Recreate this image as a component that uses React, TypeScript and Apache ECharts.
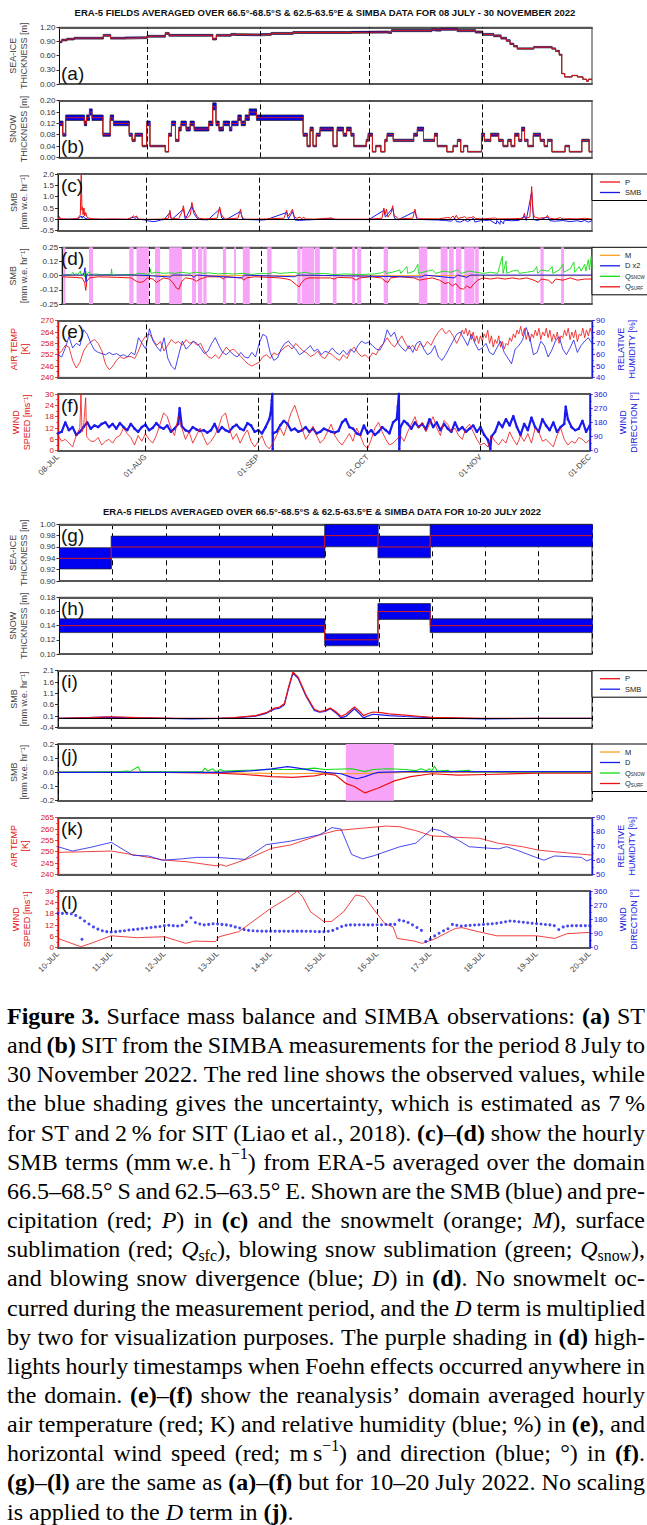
import React, { useEffect, useRef } from "react";
import * as echarts from "echarts";

// ================= DATA =================
const monthTickDays = [0, 24, 55, 85, 116, 146];
const monthTickLabels = ["08-JUL", "01-AUG", "01-SEP", "01-OCT", "01-NOV", "01-DEC"];
const dayTickLabels = ["10-JUL", "11-JUL", "12-JUL", "13-JUL", "14-JUL", "15-JUL", "16-JUL", "17-JUL", "18-JUL", "19-JUL", "20-JUL"];
const title1 = "ERA-5 FIELDS AVERAGED OVER 66.5°-68.5°S & 62.5-63.5°E & SIMBA DATA FOR 08 JULY - 30 NOVEMBER 2022";
const title2 = "ERA-5 FIELDS AVERAGED OVER 66.5°-68.5°S & 62.5-63.5°E & SIMBA DATA FOR 10-20 JULY 2022";
const panelLetters = ["(a)", "(b)", "(c)", "(d)", "(e)", "(f)", "(g)", "(h)", "(i)", "(j)", "(k)", "(l)"];

// (a) sea-ice thickness, steps [start day since 08-JUL, m]
const iceSteps = [[0,0.89],[0.6,0.93],[2,0.95],[4,0.97],[12,1.03],[14,0.97],[18,0.98],[24,1.01],[29,1.07],[30,1.03],[42,0.95],[43,1.03],[47,1.05],[48.3,1.04],[55,1.05],[58,1.07],[64,1.09],[80,1.10],[90,1.09],[91,1.13],[102,1.15],[103,1.14],[104.5,1.16],[109,1.13],[114,1.10],[116,1.05],[119,1.02],[121,0.97],[122.5,0.92],[123.5,0.85],[124.5,0.80],[125.5,0.75],[130,0.78],[135,0.75],[136,0.70],[137,0.62],[137.7,0.22],[138.5,0.15],[140.5,0.18],[142,0.15],[143.5,0.10],[144.5,0.06],[145,0.10]];
// (b) snow thickness steps
const snowSteps = [[0,0.12],[0.9,0.08],[1.7,0.14],[6.8,0.12],[7.4,0.14],[8.2,0.16],[8.9,0.14],[11.9,0.08],[13.9,0.14],[14.8,0.12],[19.1,0.08],[19.9,0.06],[20.7,0.08],[22.7,0.04],[23.9,0.12],[24.8,0.04],[29.0,0.02],[29.9,0.08],[30.7,0.12],[31.8,0.06],[32.7,0.10],[33.3,0.12],[34.7,0.10],[35.8,0.12],[36.9,0.10],[40.9,0.12],[42.0,0.18],[42.9,0.12],[43.7,0.10],[44.9,0.12],[46.6,0.10],[47.2,0.12],[48.9,0.14],[49.8,0.12],[50.9,0.14],[52.0,0.16],[54.0,0.14],[66.8,0.08],[67.9,0.04],[68.7,0.10],[69.5,0.04],[70.4,0.08],[71.4,0.10],[75.0,0.04],[76.1,0.10],[77.8,0.08],[78.7,0.10],[79.9,0.08],[80.7,0.04],[84.1,0.06],[84.6,0.08],[85.8,0.02],[86.7,0.04],[88.1,0.02],[89.2,0.06],[89.8,0.08],[91.5,0.06],[97.1,0.08],[98.1,0.10],[99.8,0.06],[102.8,0.08],[103.6,0.04],[106.2,0.02],[107.9,0.04],[109.1,0.06],[110.0,0.02],[110.8,0.04],[111.9,0.02],[115.7,0.08],[116.5,0.06],[118.2,0.08],[120.4,0.06],[121.6,0.04],[122.9,0.06],[123.8,0.04],[124.8,0.08],[125.9,0.06],[126.7,0.10],[127.5,0.06],[128.4,0.04],[129.9,0.08],[131.8,0.06],[132.9,0.04],[133.8,0.06],[135.0,0.02],[138.6,0.04],[139.8,0.02],[143.2,0.06],[145.2,0.02]];
// (c) precipitation and SMB [day, mm w.e. hr-1]
const precipTop = [[0,0.01],[0.4,0.12],[0.7,0.02],[1.5,0.03],[2.5,0.01],[4,0.02],[5.5,0.05],[6.1,0.2],[6.35,1.95],[6.55,0.4],[6.7,0.55],[6.85,0.2],[7.1,0.5],[7.3,0.15],[7.6,0.3],[7.9,0.1],[8.5,0.05],[9.5,0.03],[12,0.01],[15,0.02],[19,0.01],[20.2,0.08],[20.6,0.16],[21,0.1],[21.5,0.15],[21.8,0.02],[24,0],[28,0.01],[30.2,0.05],[30.6,0.4],[30.9,0.05],[33,0.02],[33.8,0.3],[34.3,0.6],[34.7,0.15],[35.3,0.05],[36.2,0.2],[36.6,0.75],[37,0.45],[37.5,0.3],[38,0.12],[38.6,0.05],[40,0.02],[43.5,0.05],[44.2,0.55],[44.6,0.25],[45.1,0.1],[45.8,0.02],[49.2,0.05],[49.9,0.45],[50.3,0.1],[51,0.01],[55,0.01],[61.8,0.05],[62.5,0.4],[62.9,0.15],[63.6,0.3],[64.1,0.45],[64.6,0.12],[65.2,0.05],[66.2,0.1],[66.6,0.02],[67.2,0.1],[67.6,0.02],[70,0.01],[74.8,0.06],[75.3,0.01],[80,0.01],[85,0.01],[88.6,0.05],[89.1,0.5],[89.4,0.2],[89.8,0.45],[90.2,0.1],[91.1,0.3],[91.5,0.6],[91.9,0.15],[92.5,0.12],[93,0.02],[97,0.05],[97.6,0.45],[98,0.1],[98.6,0.03],[104,0.02],[106.5,0.08],[107.4,0.05],[108,0.15],[108.4,0.05],[108.9,0.18],[109.3,0.04],[110.5,0.08],[111.2,0.12],[111.7,0.05],[113,0.08],[113.6,0.12],[114.1,0.04],[116,0.02],[119.6,0.06],[120.1,0.02],[125,0.03],[127.2,0.05],[127.5,0.27],[127.8,0.05],[129,0.1],[129.5,1.45],[129.9,0.3],[130.3,0.1],[131.5,0.05],[133.3,0.08],[133.8,0.18],[134.3,0.05],[136,0.02],[137.4,0.08],[137.8,0.02],[140,0.03],[142,0.02],[144,0.05],[146,0.01]];
const smbTop = [[0,0],[0.4,0.08],[0.7,0],[5.5,0.02],[6.1,0.1],[6.35,0.15],[6.6,0.05],[6.9,0.15],[7.3,0.05],[8,0.02],[9,0],[19,0],[20.6,0.1],[21,0.03],[21.5,0.1],[22,0],[23.5,-0.02],[24.5,-0.06],[26,-0.1],[27,-0.08],[28,-0.03],[29,-0.01],[30.6,0.3],[31,-0.02],[34.3,0.45],[34.8,0],[36.6,0.6],[37.2,0.25],[38,0.05],[39,-0.01],[41,-0.02],[44.2,0.45],[44.8,0.05],[46,-0.01],[49.9,0.35],[50.5,0],[54,-0.02],[56,-0.03],[57,-0.01],[62.5,0.3],[63,0.02],[64.1,0.35],[64.8,-0.03],[66,-0.05],[67.5,-0.03],[70,-0.01],[75,0.03],[76,-0.01],[80,-0.01],[85,-0.01],[89.1,0.4],[89.5,0.1],[91.5,0.5],[92,0.05],[93,-0.02],[97.6,0.35],[98.2,0],[102,-0.02],[104,-0.03],[106,-0.05],[107.5,-0.08],[108.5,0.05],[109,-0.1],[110,-0.12],[111.2,-0.02],[112,-0.1],[113.6,0.05],[114,-0.12],[115.5,-0.06],[116,-0.02],[117,-0.05],[118,-0.03],[119.8,-0.2],[120,-0.05],[120.8,-0.22],[121,-0.05],[121.8,-0.2],[122,-0.04],[124,-0.06],[126,-0.05],[127.5,0.15],[128,-0.05],[129.5,1.2],[130,0],[131,-0.05],[133.8,0.1],[134.5,-0.06],[136,-0.08],[138,-0.05],[140,-0.1],[142,-0.06],[143,-0.1],[144,-0.05],[145,-0.12],[146,-0.06]];
// (d) SMB terms
const meltTop = [[0,0],[146,0]];
const driftTop = [[0,0.005],[5.8,0.005],[6.1,0.03],[6.3,0.07],[6.45,-0.02],[6.6,-0.06],[6.8,0.01],[7.2,0.005],[20,0.005],[24,0],[29.8,-0.012],[30.5,0.005],[35.5,0.005],[36.3,-0.015],[37,0.005],[49.5,-0.02],[50.2,0.005],[64,-0.01],[65,0.005],[99,-0.012],[100,0.005],[108,-0.02],[109,0.005],[111.5,-0.015],[112.5,0.005],[146,0.005]];
const qsnowTop = [[0,0.005],[2.5,0.01],[3,0.03],[3.2,0.005],[4,0.02],[4.2,0.005],[5,0.04],[5.2,0.01],[6,0.02],[6.2,-0.01],[6.5,0.04],[6.7,0.005],[7.5,0.035],[7.7,0.01],[9,0.015],[10.5,0.01],[13.5,0.01],[13.6,0.06],[13.8,0.005],[16,0.01],[20,0.01],[21,0.02],[23,0.015],[24,0.01],[24.3,0.06],[24.5,0.02],[26,0.03],[28,0.02],[29.5,0.025],[31,0.02],[33,0.03],[35,0.02],[37,0.03],[39,0.02],[40.5,0.025],[43,0.015],[45,0.02],[47,0.015],[50,0.02],[52,0.01],[55,0.02],[57,0.015],[58,0.03],[60,0.02],[62,0.025],[64,0.03],[65,0.02],[67,0.03],[69,0.015],[72,0.02],[75,0.01],[78,0.015],[82,0.01],[86,0.015],[88,0.025],[89,0.04],[89.3,0.02],[91,0.03],[93,0.05],[93.3,0.02],[95,0.08],[95.2,0.02],[97,0.04],[98,0.1],[98.2,0.02],[100,0.035],[102,0.05],[103,0.02],[105,0.04],[107,0.03],[109,0.05],[110,0.02],[112,0.04],[114,0.03],[116,0.02],[118,0.03],[120,0.02],[121.3,0.17],[121.5,0.02],[122.3,0.13],[122.5,0.02],[124,0.04],[125.5,0.05],[126,0.02],[128,0.03],[130,0.04],[130.8,0.08],[131,0.02],[132,0.05],[134,0.04],[135,0.08],[135.2,0.02],[137,0.05],[138,0.1],[138.2,0.03],[140,0.06],[141,0.12],[141.2,0.03],[142.5,0.08],[143,0.04],[144,0.1],[144.3,0.04],[145,0.14],[145.3,0.05],[145.8,0.17],[146,0.06]];
const qsurfTop = [[0,-0.01],[3,-0.015],[5.5,-0.02],[6.2,-0.06],[6.5,-0.13],[6.8,-0.05],[7.5,-0.02],[10,-0.01],[15,-0.015],[19,-0.02],[20.5,-0.05],[21.5,-0.06],[22.5,-0.05],[23.5,-0.02],[25,-0.03],[26,-0.06],[27,-0.04],[28,-0.02],[29.5,-0.03],[30.5,-0.06],[31.5,-0.11],[32.2,-0.12],[33,-0.05],[34,-0.02],[36,-0.03],[37,-0.05],[38,-0.03],[39,-0.02],[40,-0.01],[43.5,-0.01],[44.5,-0.03],[45,-0.01],[49.5,-0.02],[50,-0.04],[50.8,-0.02],[53,-0.01],[57,-0.015],[60,-0.02],[62,-0.03],[63,-0.04],[64.5,-0.08],[65.3,-0.1],[66,-0.06],[67,-0.03],[68,-0.02],[70,-0.02],[74,-0.02],[75,-0.03],[76,-0.015],[80,-0.02],[81,-0.04],[82,-0.02],[85,-0.01],[88,-0.02],[89,-0.05],[89.8,-0.06],[90.5,-0.02],[93,-0.01],[97,-0.02],[98.5,-0.04],[100,-0.03],[102,-0.02],[104,-0.04],[105.5,-0.07],[106.5,-0.06],[107.5,-0.09],[108.5,-0.07],[109.5,-0.11],[110.5,-0.12],[111.5,-0.09],[112.5,-0.11],[113.5,-0.07],[114.5,-0.04],[116,-0.02],[118,-0.03],[120,-0.02],[122,-0.03],[124,-0.02],[126,-0.03],[128,-0.02],[130,-0.04],[131.2,-0.06],[132,-0.03],[134,-0.04],[135,-0.07],[136,-0.03],[138,-0.04],[140,-0.02],[142,-0.04],[144,-0.03],[146,-0.03]];
const foehnTop = [[0.3,0.9],[7.4,8.5],[18.5,19.7],[20.5,23.9],[25.6,27.0],[29.5,33.0],[35.8,36.9],[37.4,38.6],[38.9,39.8],[44.3,45.2],[47.4,47.9],[49.8,51.7],[56.5,57.7],[64.8,65.7],[66.0,69.4],[69.6,71.0],[74.6,75.6],[79.9,80.7],[81.3,82.4],[88.6,89.8],[98.3,100.6],[104.3,106.2],[106.6,107.9],[108.5,110.0],[110.8,113.6],[113.8,114.8],[131.8,132.7],[137.5,138.3]];
// (e) air temperature [K]: daily values day 0..109, then half-daily values day 110..146
const tempTopDaily = [252,254,257,256,249,245,248,254,257,259, 260,258,254,247,244,246,249,251,250,251, 251,250,254,259,262,263,260,257,259,254, 257,260,258,259,257,260,258,259,257,258, 254,251,250,252,250,253,256,254,255,253, 251,249,247,246,247,248,251,252,250,253, 252,254,256,257,255,258,256,254,253,251, 252,254,251,250,253,252,250,249,252,250, 254,256,253,251,252,250,253,252,256,258, 261,258,256,259,262,258,255,257,254,258, 256,259,257,261,264,266,263,265,262,258];
const tempTopHalfDay = [262,265,263,266,262,265,260,264,259,262, 258,262,259,263,261,265,258,262,256,260, 258,262,256,259,255,258,257,261,259,263, 261,265,263,267,262,266,260,264,259,263, 261,265,262,266,260,264,262,266,261,265, 259,263,260,264,258,262,261,265,262,266, 260,264,261,265,259,263,262,266,261,265, 262,266,263];
// relative humidity [%], daily day 0..146
const rhTopDaily = [60,58,66,76,66,70,68,82,78,70, 64,62,61,60,62,60,61,59,60,58, 62,60,75,70,65,83,72,67,63,75, 57,50,47,60,72,65,68,72,70,66, 61,63,70,75,68,62,60,63,60,58, 62,58,57,62,58,70,78,76,62,55, 57,65,70,72,68,65,60,62,65,68, 63,65,60,63,62,66,62,60,64,60, 65,62,68,72,70,71,68,65,64,70, 82,76,80,70,66,63,68,62,70,72, 65,60,62,68,58,55,60,66,72,78, 80,74,68,78,70,64,66,70,62,60, 66,72,62,57,52,65,68,73,84,75, 60,62,72,68,58,64,72,76,65,60, 66,73,62,68,72,75,70];
// (f) wind speed [m s-1] daily + extra readings, wind direction [deg] daily + extra readings
const windTopDaily = [8,5,6,4,2,8,12,12,7,5, 5,7,3,5,6,4,7,8,12,9, 7,3,8,5,9,6,4,8,14,20, 18,12,8,18,12,6,10,4,8,12, 7,3,5,8,12,18,20,12,6,9, 4,8,11,5,2,5,8,3,1,4, 8,12,8,14,20,24,18,12,6,9, 13,8,4,6,10,14,8,5,3,6, 9,5,12,8,3,1,6,12,15,10, 6,3,4,6,8,5,10,14,18,12, 15,10,14,18,12,8,16,14,10,12, 8,6,12,14,10,6,3,4,2,8, 5,3,6,4,10,6,3,8,5,9, 4,12,10,5,6,4,2,8,12,6, 3,5,4,7,6,4,6];
const windTopExtra = [[6.3,30],[6.6,10],[7.6,28],[7.85,8]];
const dirTopDaily = [110,120,180,130,150,100,120,150,180,140, 160,150,170,180,150,170,140,175,150,130, 170,140,120,150,165,130,145,175,150,140, 160,120,140,170,155,130,120,150,135,125, 130,115,130,170,120,150,130,120,150,165, 140,130,175,160,120,130,110,150,200,110, 120,160,190,170,130,140,120,130,150,120, 140,110,120,140,130,120,115,125,180,200, 150,140,110,100,160,110,130,100,120,150, 130,110,180,200,150,190,170,140,180,150, 170,135,200,150,180,130,170,140,120,180, 130,150,120,140,160,120,150,100,70,90, 120,180,150,200,160,220,150,100,170,130, 210,150,120,200,160,130,180,120,150,170, 200,150,130,140,190,120,160];
const dirTopExtra = [[33.4,270],[58.4,240],[58.7,320],[58.85,360],[58.95,10],[93.3,280],[93.6,360],[93.7,10],[118.7,10],[139.4,280]];

// (g)-(l): 10-20 JULY, day since 10-JUL
const iceSteps2 = [[0,0.94],[0.97,0.96],[4.98,0.98],[5.98,0.96],[6.96,0.98]];
const snowSteps2 = [[0,0.14],[4.98,0.12],[5.98,0.16],[6.96,0.14]];
const precipBot = [[0,0],[0.6,0.03],[1.0,0.07],[1.5,0.03],[2.2,0],[3.0,0],[3.3,0.03],[3.7,0.12],[3.9,0.25],[4.05,0.45],[4.15,0.5],[4.24,0.65],[4.32,1.4],[4.4,2.05],[4.5,1.8],[4.65,1.0],[4.8,0.4],[4.9,0.3],[5.0,0.35],[5.1,0.45],[5.2,0.3],[5.3,0.08],[5.4,0.2],[5.55,0.5],[5.65,0.3],[5.72,0.12],[5.8,0.2],[5.9,0.28],[6.05,0.25],[6.2,0.2],[6.5,0.14],[6.8,0.08],[7.0,0.04],[7.5,0.02],[8,0],[10,0]];
const smbBot = [[0,0],[0.9,0.05],[1.5,0.02],[2.5,-0.02],[3.0,0],[3.3,0.02],[3.7,0.1],[3.9,0.22],[4.05,0.4],[4.15,0.45],[4.24,0.6],[4.32,1.35],[4.4,2.0],[4.5,1.75],[4.65,0.95],[4.8,0.35],[4.9,0.27],[5.0,0.3],[5.1,0.42],[5.2,0.25],[5.3,0.02],[5.4,0.1],[5.55,0.42],[5.65,0.2],[5.72,0.02],[5.8,0.1],[5.9,0.18],[6.05,0.15],[6.2,0.12],[6.5,0.08],[6.8,0.05],[7.0,0.02],[8,-0.02],[9,0],[10,0]];
const meltBot = [[0,0],[3,0],[3.5,-0.005],[4.3,-0.01],[5,-0.005],[5.5,-0.01],[6.5,0],[10,0]];
const driftBot = [[0,0],[3,0],[3.6,0.01],[4.0,0.025],[4.3,0.04],[4.5,0.03],[4.8,0.01],[5.0,0],[5.3,-0.01],[5.5,-0.035],[5.6,-0.045],[5.75,-0.03],[5.9,-0.01],[6.0,0],[6.5,0.005],[10,0.005]];
const qsnowBot = [[0,0.002],[1.0,0.003],[1.3,0.01],[1.35,0.005],[1.5,0.04],[1.55,0.005],[2,0.003],[2.7,0.003],[2.75,0.03],[2.8,0.01],[2.9,0.025],[2.95,0.005],[3.05,0.02],[3.1,0.01],[3.5,0.015],[4.0,0.02],[4.5,0.02],[4.8,0.03],[5.0,0.02],[5.5,0.025],[5.75,0.005],[5.9,0.02],[6.2,0.025],[6.5,0.02],[6.7,0.012],[6.8,0.025],[6.9,0.012],[6.95,0.025],[7.0,0.01],[7.05,0.045],[7.1,0.01],[7.3,0.015],[7.35,0.005],[7.7,0.015],[7.75,0.003],[8,0.003],[10,0.003]];
const qsurfBot = [[0,0],[2,0],[3,-0.005],[3.5,-0.015],[4.0,-0.03],[4.4,-0.035],[4.8,-0.025],[5.0,-0.01],[5.2,-0.02],[5.4,-0.08],[5.55,-0.1],[5.75,-0.145],[6.0,-0.11],[6.3,-0.06],[6.6,-0.03],[7.0,-0.01],[7.5,-0.02],[8.0,-0.015],[9,-0.005],[10,-0.005]];
const foehnBot = [[5.39, 6.29]];
const tempBot = [[0,249.7],[1.0,250.3],[2.0,246.3],[2.4,245.6],[2.96,243.8],[3.05,244.3],[3.15,243.6],[3.6,247.3],[4.0,251.5],[4.36,253],[4.9,257.4],[5.2,259.3],[5.9,260.8],[6.15,261.3],[6.4,261],[6.7,259.3],[7.0,257],[7.5,256.3],[7.9,255.9],[8.25,253.7],[8.7,252.2],[9.0,250.7],[9.3,250],[10,248.5]];
const rhBot = [[0,69.5],[0.27,66.5],[0.6,69],[1.0,72.6],[1.2,68],[1.4,63.5],[1.7,63],[1.95,60],[2.33,61],[2.6,62],[2.96,62],[3.5,60.6],[3.9,71],[4.36,73.5],[4.9,78],[5.13,83],[5.3,82],[5.5,64],[5.7,61],[5.9,63],[6.4,69.5],[6.7,72],[7.0,82],[7.16,81],[7.5,74],[7.7,69.5],[8.25,68],[8.4,69.5],[8.6,67],[8.95,62],[9.1,60],[9.3,63],[9.8,62],[9.9,59.5],[10,61]];
const windBot = [[0,4.9],[0.43,0.5],[0.62,2.3],[1.0,6.3],[1.48,5.3],[2.0,5.8],[2.4,2.3],[2.57,3.5],[2.96,3.2],[3.03,5.8],[3.4,8.5],[4.0,20.8],[4.36,27],[4.5,30],[4.6,27],[4.75,19],[5.0,13.8],[5.14,13.8],[5.37,19],[5.6,27.9],[5.76,27],[6.0,18],[6.15,12.7],[6.3,11],[6.38,4.9],[6.7,3.5],[6.85,2.3],[7.08,4.6],[7.47,10.2],[7.6,10.6],[7.9,8.5],[8.25,6.3],[9.0,6.3],[9.34,4.9],[9.57,7.4],[10,8.1]];
// wind direction every 2 hours from 10-JUL 00 UTC [deg]
const dirBot2h = [218,218,218,215,205,190,170,150,132,118,108,102, 100,102,105,108,112,115,118,122,125,128,132,135, 140,142,140,138,142,165,190,160,150,145,148,152, 150,148,145,140,132,125,115,110,108,106,105,105, 105,105,105,105,104,105,105,105,104,104,103,102, 102,104,110,122,135,142,145,145,146,146,145,145, 146,146,147,148,148,175,170,160,145,128,110,40, 55,75,92,108,120,148,142,138,140,142,144,146, 148,150,152,155,160,165,170,168,165,162,158,155, 152,150,147,145,140,115,132,138,140,140,140,140, 140];
const dirBotExtra = [[0.45, 53]];

const captionLines = [
  "*Figure* *3.* Surface mass balance and SIMBA observations: *(a)* ST",
  "and *(b)* SIT from the SIMBA measurements for the period 8 July to",
  "30 November 2022. The red line shows the observed values, while",
  "the blue shading gives the uncertainty, which is estimated as 7\u2009%",
  "for ST and 2\u2009% for SIT (Liao et al., 2018). *(c)*–*(d)* show the hourly",
  "SMB terms (mm\u2009w.e.\u2009h^−1^) from ERA-5 averaged over the domain",
  "66.5–68.5°\u2009S and 62.5–63.5°\u2009E. Shown are the SMB (blue) and pre-",
  "cipitation (red; _P_) in *(c)* and the snowmelt (orange; _M_), surface",
  "sublimation (red; _Q_~sfc~), blowing snow sublimation (green; _Q_~snow~),",
  "and blowing snow divergence (blue; _D_) in *(d)*. No snowmelt oc-",
  "curred during the measurement period, and the _D_ term is multiplied",
  "by two for visualization purposes. The purple shading in *(d)* high-",
  "lights hourly timestamps when Foehn effects occurred anywhere in",
  "the domain. *(e)*–*(f)* show the reanalysis’ domain averaged hourly",
  "air temperature (red; K) and relative humidity (blue; %) in *(e)*, and",
  "horizontal wind speed (red; m\u2009s^−1^) and direction (blue; °) in *(f)*.",
  "*(g)*–*(l)* are the same as *(a)*–*(f)* but for 10–20 July 2022. No scaling",
  "is applied to the _D_ term in *(j)*.",
];

// ================= LAYOUT / STYLE =================
const W = 647, H = 1525;
const PL = 58, PW = 534, PH = 56.7;
const TOPS1 = [27.3, 100.7, 174, 247.3, 320.7, 394];
const TOPS2 = [524.3, 597.3, 670.7, 744, 817.7, 891];
const FONT = "'Liberation Sans Narrow','Arial Narrow','Liberation Sans',Arial,sans-serif";
const RED = "#ee1111", BLUE = "#1a1aee", GREEN = "#11dd11", ORANGE = "#ffa020", PINK = "#f7a3f7", BAND = "#0000f0";
const AXRED = "#e01010", AXBLUE = "#1515e0";
const CS = 24, CAP_X = 7, CAP_W = 638, CAP_Y0 = 1016, CAP_DY = 29.15;

function fmt(v, dec, trunc) {
  if (trunc) {
    const f = Math.pow(10, dec);
    const t = Math.sign(v) * Math.floor(Math.abs(v) * f + 1e-6) / f;
    return (t === 0 ? 0 : t).toFixed(dec);
  }
  return (Math.abs(v) < 1e-9 ? 0 : v).toFixed(dec);
}

function makeY(s, gi, pos) {
  const c = s.color || "#000";
  return {
    type: "value", gridIndex: gi, position: pos, min: s.min, max: s.max, interval: s.interval,
    axisLine: { show: true, onZero: false, lineStyle: { color: c, width: s.color ? 1.4 : 0.8 } },
    axisTick: { show: true, length: 3, lineStyle: { color: c, width: 0.8 } },
    minorTick: { show: !!s.minor, splitNumber: s.minor || 2, length: 2, lineStyle: { color: c, width: 0.6 } },
    axisLabel: { fontSize: 8, fontFamily: FONT, color: s.labelColor || "#333", margin: 4, formatter: (v) => fmt(v, s.dec, s.trunc) },
    splitLine: { show: false },
    name: s.name, nameLocation: "middle", nameRotate: 90, nameGap: s.nameGap ?? (pos === "left" ? 26 : 20),
    nameTextStyle: { fontSize: 9, fontFamily: FONT, color: s.nameColor || "#444", lineHeight: 10.5, align: "center" },
  };
}

function panel(o, top, long, left, right, labels) {
  const gi = o.grid.length;
  o.grid.push({ left: PL, top, width: PW, height: PH, show: true, borderColor: "#000", borderWidth: 0.8, backgroundColor: "#fff" });
  const xmax = long ? 146 : 10;
  const base = {
    type: "value", gridIndex: gi, min: 0, max: xmax,
    axisLine: { show: true, onZero: false, lineStyle: { color: "#555", width: 2 } },
    axisTick: { show: false }, splitLine: { show: false }, axisLabel: { show: false },
  };
  const bottom: any = { ...base, position: "bottom" };
  if (!long) {
    bottom.interval = 1;
    bottom.splitLine = { show: true, lineStyle: { color: "#000", width: 1, type: [5, 4] } };
  }
  if (labels) {
    bottom.axisLabel = long
      ? { show: true, rotate: 45, fontSize: 8, fontFamily: FONT, color: "#444", margin: 5, customValues: monthTickDays,
          formatter: (v) => { const i = monthTickDays.indexOf(Math.round(v)); return i >= 0 ? monthTickLabels[i] : ""; } }
      : { show: true, rotate: 45, fontSize: 8, fontFamily: FONT, color: "#444", margin: 5,
          formatter: (v) => dayTickLabels[Math.round(v)] ?? "" };
  }
  const xi = o.xAxis.length;
  o.xAxis.push(bottom, { ...base, position: "top" });
  const yi = o.yAxis.length;
  o.yAxis.push(makeY(left, gi, "left"));
  if (right) o.yAxis.push(makeY(right, gi, "right"));
  return { gi, xi, yi, yr: right ? yi + 1 : -1, top };
}

function line(data, xi, yi, color, width, z, extra = {}) {
  return {
    type: "line", data, xAxisIndex: xi, yAxisIndex: yi, z, silent: true, symbol: "none", showSymbol: false,
    lineStyle: { color, width }, itemStyle: { color }, emphasis: { disabled: true }, ...extra,
  };
}

function guides(o, p, long, zero) {
  const data: any[] = [];
  if (long) monthTickDays.slice(1, -1).forEach((d) => data.push({ xAxis: d }));
  if (zero) data.push({ yAxis: 0, lineStyle: { type: "solid", width: 1, color: "#000" } });
  if (!data.length) return;
  o.series.push({
    type: "line", data: [], xAxisIndex: p.xi, yAxisIndex: p.yi, z: 1, silent: true, symbol: "none",
    markLine: { silent: true, symbol: ["none", "none"], label: { show: false }, lineStyle: { color: "#000", width: 1, type: [5, 3] }, data },
  });
}

function band(o, p, steps, pct, end) {
  const pts = [...steps.map((s) => [s[0], s[1]]), [end, steps[steps.length - 1][1]]];
  const rects = steps.map((s, i) => [s[0], i + 1 < steps.length ? steps[i + 1][0] : end, s[1] * (1 - pct), s[1] * (1 + pct)]);
  o.series.push({
    type: "custom", xAxisIndex: p.xi, yAxisIndex: p.yi, z: 2, silent: true, data: rects, encode: { x: [0, 1], y: [2, 3] },
    renderItem: (params, api) => {
      const a = api.coord([api.value(0), api.value(3)]);
      const b = api.coord([api.value(1), api.value(2)]);
      return { type: "rect", shape: { x: a[0], y: a[1], width: b[0] - a[0] + 0.6, height: b[1] - a[1] }, style: { fill: BAND } };
    },
  });
  const lo = pts.map(([x, v]) => [x, v * (1 - pct)]);
  const hi = pts.map(([x, v]) => [x, v * (1 + pct)]);
  o.series.push(
    line(lo, p.xi, p.yi, "#222", 0.7, 3, { step: "end" }),
    line(hi, p.xi, p.yi, "#222", 0.7, 3, { step: "end" }),
    line(pts, p.xi, p.yi, "#d81818", 1, 4, { step: "end" })
  );
}

function legendAt(top, names) {
  return {
    show: true, left: PL + PW, top, orient: "vertical", data: names, icon: "rect", itemWidth: 20, itemHeight: 1.3, itemGap: 2.5,
    padding: [4, 30, 4, 8], borderColor: "#000", borderWidth: 1, backgroundColor: "#fff", selectedMode: false,
    formatter: (n) => (n === "Qsnow" ? "{q|Q}{s|SNOW}" : n === "Qsurf" ? "{q|Q}{s|SURF}" : "{q|" + n + "}"),
    textStyle: {
      fontSize: 7.5, fontFamily: FONT, color: "#222",
      rich: { q: { fontSize: 7.5, fontFamily: FONT, color: "#222" }, s: { fontSize: 4.5, fontFamily: FONT, color: "#222", padding: [3, 0, 0, 0] } },
    },
  };
}

function parseWord(w) {
  const segs: any[] = [];
  let bold = false, ital = false, mode = "n", buf = "";
  const flush = () => { if (buf) { segs.push({ t: buf, bold, ital, mode }); buf = ""; } };
  for (const ch of w) {
    if (ch === "*") { flush(); bold = !bold; }
    else if (ch === "_") { flush(); ital = !ital; }
    else if (ch === "^") { flush(); mode = mode === "sup" ? "n" : "sup"; }
    else if (ch === "~") { flush(); mode = mode === "sub" ? "n" : "sub"; }
    else buf += ch;
  }
  flush();
  return segs;
}

function captionGraphics() {
  const out: any[] = [];
  const ctx = document.createElement("canvas").getContext("2d");
  const size = (g) => (g.mode === "n" ? CS : CS * 0.66);
  const meas = (g) => {
    ctx.font = `${g.ital ? "italic " : ""}${g.bold ? "bold " : ""}${size(g)}px "Liberation Serif"`;
    return ctx.measureText(g.t).width;
  };
  ctx.font = `${CS}px "Liberation Serif"`;
  const sp = ctx.measureText(" ").width;
  captionLines.forEach((ln, li) => {
    const y = CAP_Y0 + li * CAP_DY;
    const words = ln.split(" ").map(parseWord);
    const ws = words.map((w) => w.reduce((s, g) => s + meas(g), 0));
    const total = ws.reduce((a, b) => a + b, 0);
    const last = li === captionLines.length - 1;
    const gap = last || words.length < 2 ? sp : (CAP_W - total) / (words.length - 1);
    let x = CAP_X;
    words.forEach((w) => {
      w.forEach((g) => {
        const dy = g.mode === "sup" ? -8 : g.mode === "sub" ? 6 : 0;
        out.push({
          type: "text", x, y: y + dy, silent: true, z: 10,
          style: { text: g.t, fontSize: size(g), fontFamily: "Liberation Serif", fontWeight: g.bold ? "bold" : "normal", fontStyle: g.ital ? "italic" : "normal", fill: "#000", align: "left", verticalAlign: "middle" },
        });
        x += meas(g);
      });
      x += gap;
    });
  });
  return out;
}

function buildOption() {
  const o: any = { animation: false, backgroundColor: "#fff", textStyle: { fontFamily: FONT }, grid: [], xAxis: [], yAxis: [], series: [], legend: [], graphic: [] };
  const smbName = "SMB\n[mm w.e. hr⁻¹]";
  const redAx = { color: AXRED, labelColor: AXRED, nameColor: AXRED, minor: 2 };
  const blueAx = { color: AXBLUE, labelColor: AXBLUE, nameColor: AXBLUE, minor: 2 };

  // ---- top set ----
  const pa = panel(o, TOPS1[0], true, { min: 0, max: 1.2, interval: 0.3, dec: 2, name: "SEA-ICE\nTHICKNESS [m]" });
  guides(o, pa, true, false);
  band(o, pa, iceSteps, 0.02, 146);

  const pb = panel(o, TOPS1[1], true, { min: 0, max: 0.2, interval: 0.04, dec: 2, name: "SNOW\nTHICKNESS [m]" });
  guides(o, pb, true, false);
  band(o, pb, snowSteps, 0.07, 146);

  const pc = panel(o, TOPS1[2], true, { min: -0.5, max: 2.0, interval: 0.5, dec: 1, name: smbName });
  guides(o, pc, true, true);
  o.series.push(line(smbTop, pc.xi, pc.yi, BLUE, 1, 3, { name: "SMB" }), line(precipTop, pc.xi, pc.yi, RED, 1, 4, { name: "P" }));

  const pd = panel(o, TOPS1[3], true, { min: -0.25, max: 0.25, interval: 0.125, dec: 2, trunc: true, name: smbName });
  o.series.push(line(meltTop, pd.xi, pd.yi, ORANGE, 1, 1, {
    name: "M",
    markArea: { silent: true, itemStyle: { color: PINK }, data: foehnTop.map(([a, b]) => [{ xAxis: a }, { xAxis: b }]) },
  }));
  guides(o, pd, true, false);
  o.series.push(
    line(qsurfTop, pd.xi, pd.yi, RED, 1, 3, { name: "Qsurf" }),
    line(qsnowTop, pd.xi, pd.yi, GREEN, 0.9, 4, { name: "Qsnow" }),
    line(driftTop, pd.xi, pd.yi, BLUE, 1, 5, { name: "D x2" })
  );

  const pe = panel(o, TOPS1[4], true, { min: 240, max: 270, interval: 6, dec: 0, name: "AIR TEMP\n[K]", ...redAx },
    { min: 40, max: 90, interval: 10, dec: 0, name: "RELATIVE\nHUMIDITY [%]", ...blueAx });
  guides(o, pe, true, false);
  const tempTop = [...tempTopDaily.map((v, i) => [i, v]), ...tempTopHalfDay.map((v, i) => [110 + i * 0.5, v])];
  o.series.push(
    line(tempTop, pe.xi, pe.yi, RED, 0.8, 3),
    line(rhTopDaily.map((v, i) => [i, v]), pe.xi, pe.yr, BLUE, 0.8, 4)
  );

  const pf = panel(o, TOPS1[5], true, { min: 0, max: 30, interval: 6, dec: 0, name: "WIND\nSPEED [ms⁻¹]", ...redAx },
    { min: 0, max: 360, interval: 90, dec: 0, name: "WIND\nDIRECTION [°]", ...blueAx }, true);
  guides(o, pf, true, false);
  const windTop = [...windTopDaily.map((v, i) => [i, v]), ...windTopExtra].sort((a, b) => a[0] - b[0]);
  const dirTop = [...dirTopDaily.map((v, i) => [i, v]), ...dirTopExtra].sort((a, b) => a[0] - b[0]);
  o.series.push(
    line(dirTop, pf.xi, pf.yr, BLUE, 2.2, 3, { symbol: "circle", showSymbol: true, symbolSize: 2.6 }),
    line(windTop, pf.xi, pf.yi, RED, 0.8, 4)
  );

  // ---- bottom set ----
  const pg = panel(o, TOPS2[0], false, { min: 0.9, max: 1.0, interval: 0.02, dec: 2, name: "SEA-ICE\nTHICKNESS [m]" });
  band(o, pg, iceSteps2, 0.02, 10);

  const ph = panel(o, TOPS2[1], false, { min: 0.1, max: 0.18, interval: 0.02, dec: 2, name: "SNOW\nTHICKNESS [m]" });
  band(o, ph, snowSteps2, 0.07, 10);

  const pi = panel(o, TOPS2[2], false, { min: -0.4, max: 2.1, interval: 0.5, dec: 1, name: smbName });
  guides(o, pi, false, true);
  o.series.push(line(smbBot, pi.xi, pi.yi, BLUE, 1.2, 3, { name: "SMB" }), line(precipBot, pi.xi, pi.yi, RED, 1.2, 4, { name: "P" }));

  const pj = panel(o, TOPS2[3], false, { min: -0.2, max: 0.2, interval: 0.1, dec: 1, name: smbName });
  o.series.push(line(meltBot, pj.xi, pj.yi, ORANGE, 1.2, 1, {
    name: "M",
    markArea: { silent: true, itemStyle: { color: PINK }, data: foehnBot.map(([a, b]) => [{ xAxis: a }, { xAxis: b }]) },
  }));
  o.series.push(
    line(qsurfBot, pj.xi, pj.yi, RED, 1.2, 3, { name: "Qsurf" }),
    line(qsnowBot, pj.xi, pj.yi, GREEN, 1.1, 4, { name: "Qsnow" }),
    line(driftBot, pj.xi, pj.yi, BLUE, 1.2, 5, { name: "D" })
  );

  const pk = panel(o, TOPS2[4], false, { min: 240, max: 265, interval: 5, dec: 0, name: "AIR TEMP\n[K]", ...redAx },
    { min: 50, max: 90, interval: 10, dec: 0, name: "RELATIVE\nHUMIDITY [%]", ...blueAx });
  o.series.push(line(tempBot, pk.xi, pk.yi, RED, 0.8, 3), line(rhBot, pk.xi, pk.yr, BLUE, 0.8, 4));

  const pl = panel(o, TOPS2[5], false, { min: 0, max: 30, interval: 6, dec: 0, name: "WIND\nSPEED [ms⁻¹]", ...redAx },
    { min: 0, max: 360, interval: 90, dec: 0, name: "WIND\nDIRECTION [°]", ...blueAx }, true);
  o.series.push(
    line(windBot, pl.xi, pl.yi, RED, 0.8, 3),
    { type: "scatter", xAxisIndex: pl.xi, yAxisIndex: pl.yr, z: 4, silent: true, symbolSize: 3, itemStyle: { color: BLUE },
      data: [...dirBot2h.map((v, i) => [i / 12, v]), ...dirBotExtra] }
  );

  // ---- legends ----
  o.legend.push(
    legendAt(TOPS1[2], ["P", "SMB"]),
    legendAt(TOPS1[3], ["M", "D x2", "Qsnow", "Qsurf"]),
    legendAt(TOPS2[2], ["P", "SMB"]),
    legendAt(TOPS2[3], ["M", "D", "Qsnow", "Qsurf"])
  );

  // ---- titles & panel letters ----
  o.graphic.push(
    { type: "text", x: 325, y: 12.7, silent: true, style: { text: title1, fontSize: 9.5, fontWeight: "bold", fontFamily: FONT, fill: "#111", align: "center", verticalAlign: "middle" } },
    { type: "text", x: 322, y: 511.7, silent: true, style: { text: title2, fontSize: 9.5, fontWeight: "bold", fontFamily: FONT, fill: "#111", align: "center", verticalAlign: "middle" } }
  );
  const tops = [...TOPS1, ...TOPS2];
  panelLetters.forEach((t, i) => {
    const bottomAligned = i < 2;
    o.graphic.push({
      type: "text", x: PL + 3, y: bottomAligned ? tops[i] + PH - 1.5 : tops[i] + 1.5, silent: true, z: 20,
      style: { text: t, fontSize: 19, fontFamily: "'Liberation Sans',Arial,sans-serif", fill: "#111", align: "left", verticalAlign: bottomAligned ? "bottom" : "top" },
    });
  });
  o.graphic.push(...captionGraphics());
  return o;
}

export default function App() {
  const ref = useRef<HTMLDivElement>(null);
  useEffect(() => {
    document.body.style.margin = "0";
    const chart = echarts.init(ref.current!, null, { renderer: "svg", width: W, height: H });
    chart.setOption(buildOption());
    return () => chart.dispose();
  }, []);
  return <div ref={ref} style={{ width: W, height: H }} />;
}
